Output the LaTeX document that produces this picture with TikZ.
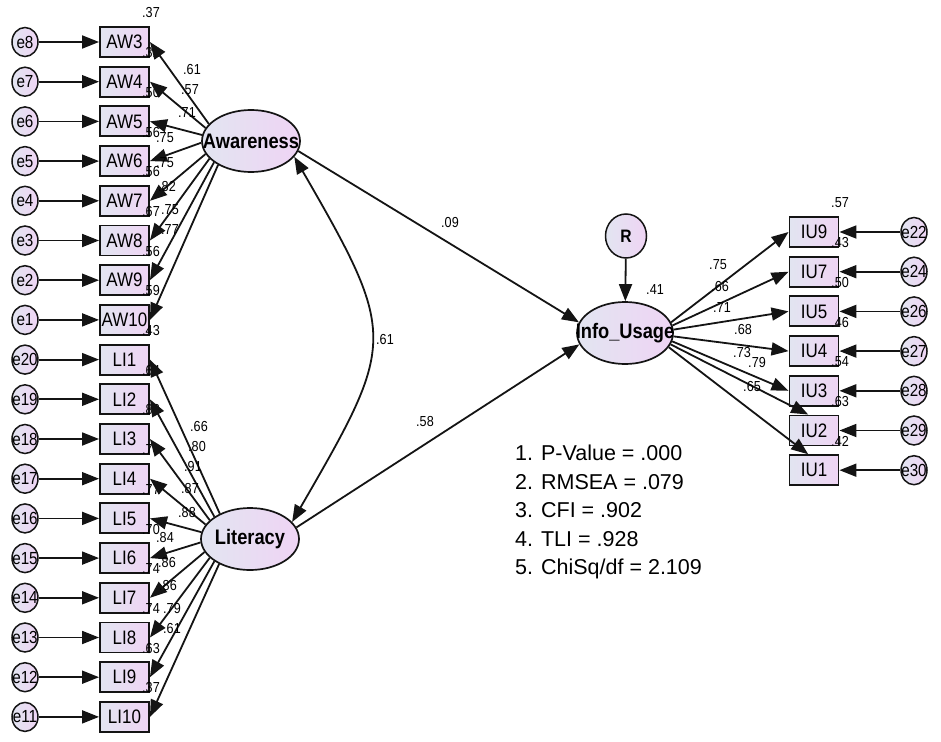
\documentclass[tikz,border=0pt]{standalone}
\usepackage{fontspec}
\setmainfont{Liberation Sans}
\newfontfamily\amosfont[FakeStretch=0.87]{Liberation Sans}
\usetikzlibrary{arrows.meta,shapes.geometric}

\definecolor{shadeL}{RGB}{226,229,241}
\definecolor{shadeR}{RGB}{239,212,244}
\definecolor{ink}{RGB}{20,20,20}

\tikzset{
  obsbox/.style={draw=ink, line width=1.9pt, rectangle,
                 left color=shadeL, right color=shadeR,
                 minimum width=49pt, minimum height=30pt, inner sep=0pt,
                 font=\amosfont\fontsize{19.5}{19.5}\selectfont},
  errnode/.style={draw=ink, line width=1.5pt, ellipse,
                 left color=shadeL, right color=shadeR,
                 minimum width=26pt, minimum height=29pt, inner sep=0pt,
                 font=\amosfont\fontsize{17.5}{17.5}\selectfont},
  latent/.style={draw=ink, line width=1.7pt, ellipse,
                 left color=shadeL, right color=shadeR,
                 minimum width=98pt, minimum height=62pt, inner sep=0pt,
                 font=\amosfont\bfseries\fontsize{21}{21}\selectfont},
  arr/.style={-{Triangle[length=17pt,width=13pt]}, line width=1.8pt, draw=ink},
  arrboth/.style={{Triangle[length=17pt,width=13pt]}-{Triangle[length=17pt,width=13pt]}, line width=1.8pt, draw=ink},
  coef/.style={inner sep=0pt, font=\amosfont\fontsize{14.5}{14.5}\selectfont},
}

\begin{document}
\begin{tikzpicture}[x=1pt,y=-1pt]

\pgfmathsetmacro{\rowgap}{39.7}
\pgfmathsetmacro{\leftTop}{42}
\pgfmathsetmacro{\rightTop}{232}
\pgfmathsetmacro{\errLx}{25}
\pgfmathsetmacro{\boxLx}{124.5}
\pgfmathsetmacro{\boxRx}{814}
\pgfmathsetmacro{\errRx}{914}

% CANVAS
\fill[white] (0,0) rectangle (941,741);
\useasboundingbox (0,0) rectangle (941,741);

% LATENT VARIABLES
\node(aw)[latent] at (251,141) {\makebox[0pt]{Awareness}};
\node(li)[latent] at (250,539) {\makebox[0pt]{Literacy}};
\node(iu)[latent, minimum width=96pt] at (625,333) {\makebox[0pt]{Info\_Usage}};
\node(R)[errnode, minimum width=41pt, minimum height=44pt,
         font=\amosfont\bfseries\fontsize{18}{18}\selectfont] at (626,236) {R};

% LEFT ITEMS
%awareness on top, literacy below
\foreach \obs/\err/\rsq [count=\k from 0] in {AW3/e8/.37, AW4/e7/.32, AW5/e6/.50, AW6/e5/.56,
    AW7/e4/.56, AW8/e3/.67, AW9/e2/.56, AW10/e1/.59, LI1/e20/.43, LI2/e19/.64, LI3/e18/.83,
    LI4/e17/.76, LI5/e16/.77, LI6/e15/.70, LI7/e14/.74, LI8/e13/.74, LI9/e12/.63, LI10/e11/.37}{
  \node(\obs)[obsbox] at (\boxLx,\leftTop+\k*\rowgap) {\obs};
  \node(\err)[errnode] at (\errLx,\leftTop+\k*\rowgap) {\makebox[0pt]{\err}};
  \node[coef] at (151,\leftTop+\k*\rowgap-29) {\rsq};
  \draw[arr] (\err) -- (\obs);
}

% AWARENESS LOADINGS
\foreach \obs/\ang/\lx/\ly/\val in {AW3/158/192/70/.61, AW4/164/190/90/.57, AW5/173/187/113/.71,
    AW6/182/165/138/.75, AW7/196/165/163/.75, AW8/203/167/187/.82, AW9/210/170/210/.75,
    AW10/216/170/230/.77}{
  \node[coef] at (\lx,\ly) {\val};
  \draw[arr] (aw.\ang) -- (\obs.east);
}

% LITERACY LOADINGS
\foreach \obs/\ang/\lx/\ly/\val in {LI1/140/199/427/.66, LI2/148/197/447/.80, LI3/155/193/467/.91,
    LI4/162/190/489/.87, LI5/172/187/513/.88, LI6/184/165/538/.84, LI7/196/167/563/.86,
    LI8/205/168/585/.86, LI9/212/172/608/.79, LI10/219/172/628/.61}{
  \node[coef] at (\lx,\ly) {\val};
  \draw[arr] (li.\ang) -- (\obs.east);
}

% INFO USAGE ITEMS
\foreach \obs/\err/\rsq/\ang/\tip/\lx/\ly/\val [count=\k from 0] in {IU9/e22/.57/13/west/718/265/.75,
    IU7/e24/.43/9/west/720/287/.66, IU5/e26/.50/4/west/722/308/.71, IU4/e27/.46/-4/west/743/330/.68,
    IU3/e28/.54/-10/west/742/353/.73, IU2/e29/.63/-14/110/757/363/.79, IU1/e30/.42/-18/110/752/387/.65}{
  \node(\obs)[obsbox] at (\boxRx,\rightTop+\k*\rowgap) {\obs};
  \node(\err)[errnode] at (\errRx,\rightTop+\k*\rowgap) {\makebox[0pt]{\err}};
  \node[coef] at (840,\rightTop+\k*\rowgap-29) {\rsq};
  \node[coef] at (\lx,\ly) {\val};
  \draw[arr] (\err) -- (\obs);
  \draw[arr] (iu.\ang) -- (\obs.\tip);
}

% STRUCTURAL PATHS
\draw[arr] (aw.-12) -- (iu.167);
\draw[arr] (li.14) -- (iu.194);
\draw[arrboth] (aw.-20) .. controls +(104,180) and +(104,-180) .. (li.22);
\draw[arr] (R) -- (iu);
\node[coef] at (450,223) {.09};
\node[coef] at (425,422) {.58};
\node[coef] at (385,340) {.61};
\node[coef] at (655,290) {.41};

% FIT INDICES
\node(fit)[anchor=north west, align=left, inner sep=0pt,
           font=\fontsize{21.5}{28.5}\selectfont] at (515,445)
  {1. P-Value = .000\\2. RMSEA = .079\\3. CFI = .902\\4. TLI = .928\\5. ChiSq/df = 2.109};

\end{tikzpicture}
\end{document}
